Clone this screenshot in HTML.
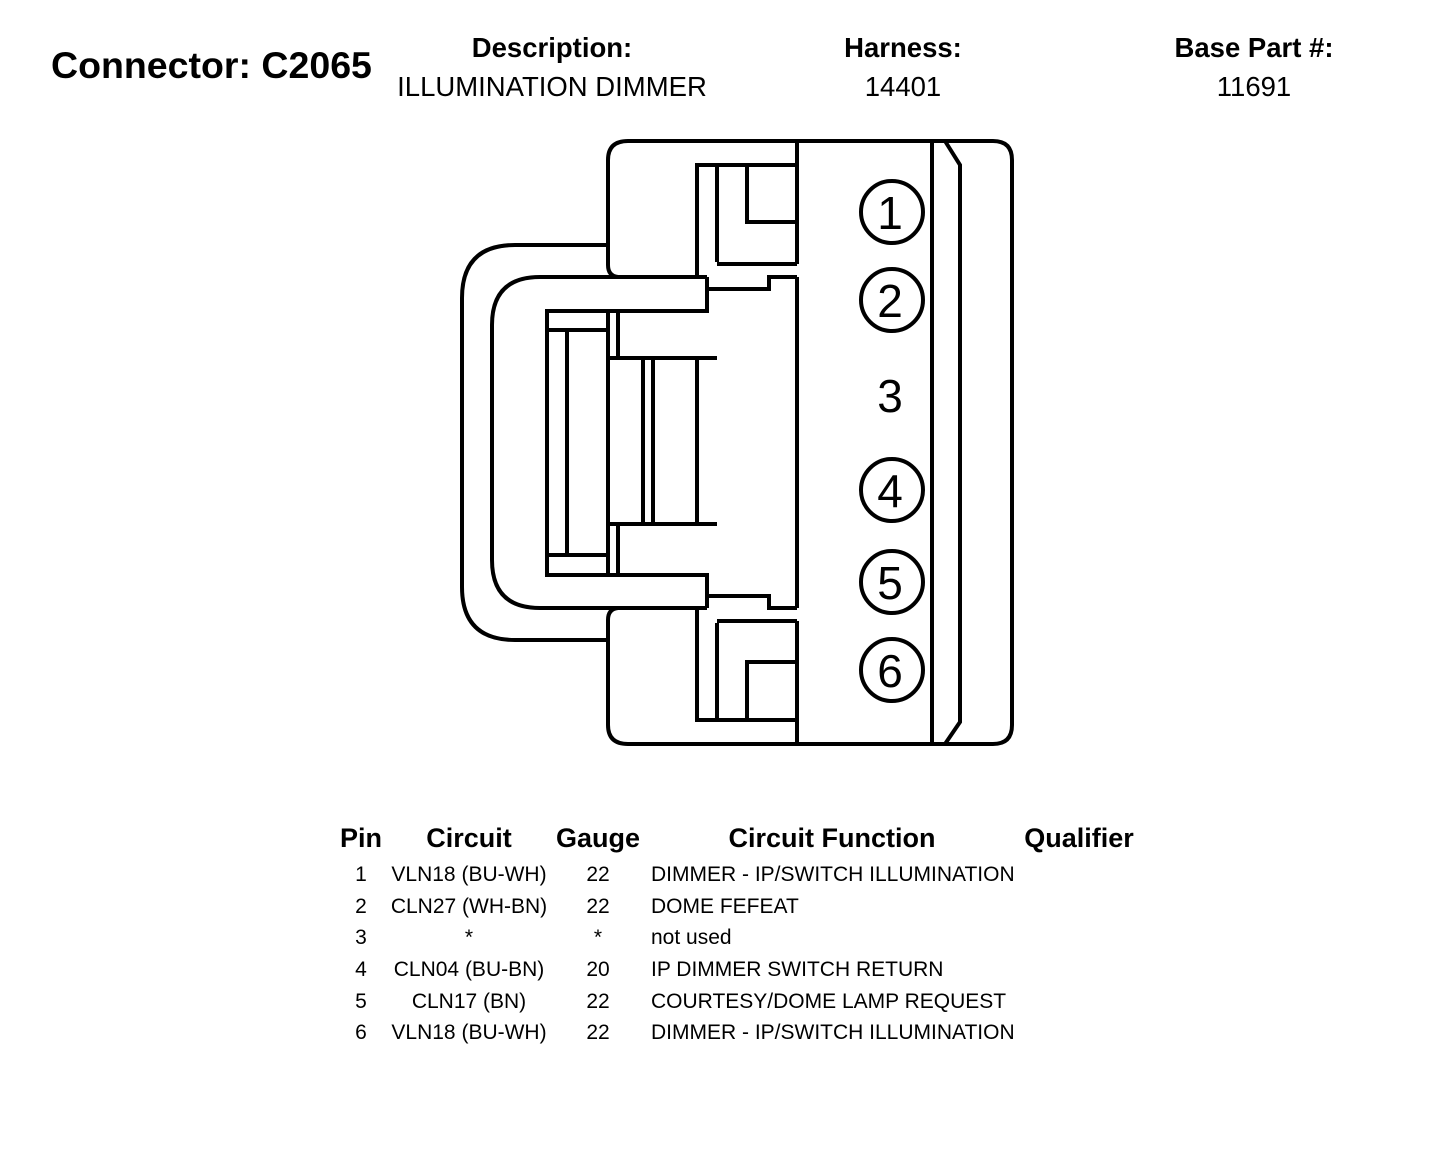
<!DOCTYPE html>
<html><head><meta charset="utf-8"><style>
html,body{margin:0;padding:0;background:#fff;}
svg{display:block;}
text{font-family:"Liberation Sans",Arial,sans-serif;fill:#000;}
</style></head><body>
<svg width="1440" height="1154" viewBox="0 0 1440 1154" xmlns="http://www.w3.org/2000/svg">
<g font-weight="bold">
<text x="51" y="78" font-size="37.5">Connector: C2065</text>
<text x="552" y="57" font-size="27.5" text-anchor="middle">Description:</text>
<text x="903" y="57" font-size="27.5" text-anchor="middle">Harness:</text>
<text x="1254" y="57" font-size="27.5" text-anchor="middle">Base Part #:</text>
</g>
<g font-size="27.5" text-anchor="middle">
<text x="552" y="96">ILLUMINATION DIMMER</text>
<text x="903" y="96">14401</text>
<text x="1254" y="96">11691</text>
</g>
<g fill="none" stroke="#000" stroke-width="4" stroke-linejoin="miter">
<path d="M608,245 L608,160 Q608,141 628,141 L993,141 Q1012,141 1012,160 L1012,725 Q1012,744 993,744 L628,744 Q608,744 608,725 L608,640"/>
<path d="M608,245 L608,265 Q608,276 618,277"/>
<path d="M608,640 L608,620 Q608,609 618,608"/>
<path d="M608,245 L515,245 Q462,245 462,298 L462,587 Q462,640 515,640 L608,640"/>
<path d="M707,277 L540,277 Q492,277 492,325 L492,560 Q492,608 540,608 L707,608"/>
<path d="M707,277 L707,311 L547,311 L547,575 L707,575 L707,608"/>
<path d="M707,289 L769,289 L769,277 L797,277"/>
<path d="M707,596 L769,596 L769,608 L797,608"/>
<path d="M547,330 L608,330 M547,555 L608,555 M567,330 L567,555"/>
<path d="M608,311 L608,575 M618,311 L618,358 M618,524 L618,575"/>
<path d="M608,358 L717,358 M608,524 L717,524"/>
<path d="M643,358 L643,524 M653,358 L653,524 M697,358 L697,524"/>
<path d="M697,277 L697,165 L797,165 M717,262 L717,165 M717,264 L797,264"/>
<path d="M747,165 L747,222 L797,222"/>
<path d="M797,141 L797,264 M797,277 L797,608 M797,621 L797,744"/>
<path d="M697,608 L697,720 L797,720 M717,623 L717,720 M717,621 L797,621"/>
<path d="M747,720 L747,662 L797,662"/>
<path d="M932,141 L932,744"/>
<path d="M945,141 L960,165 L960,722 L945,744"/>
<circle cx="892" cy="212" r="31"/>
<circle cx="892" cy="300" r="31"/>
<circle cx="892" cy="490" r="31"/>
<circle cx="892" cy="582" r="31"/>
<circle cx="892" cy="670" r="31"/>
</g>
<g font-size="46" text-anchor="middle">
<text x="890" y="229">1</text>
<text x="890" y="317">2</text>
<text x="890" y="412">3</text>
<text x="890" y="507">4</text>
<text x="890" y="599">5</text>
<text x="890" y="687">6</text>
</g>
<g font-weight="bold" font-size="27" text-anchor="middle">
<text x="361" y="847">Pin</text>
<text x="469" y="847">Circuit</text>
<text x="598" y="847">Gauge</text>
<text x="832" y="847">Circuit Function</text>
<text x="1079" y="847">Qualifier</text>
</g>
<g font-size="21">
<g text-anchor="middle">
<text x="361" y="881">1</text><text x="469" y="881">VLN18 (BU-WH)</text><text x="598" y="881">22</text>
<text x="361" y="913">2</text><text x="469" y="913">CLN27 (WH-BN)</text><text x="598" y="913">22</text>
<text x="361" y="944">3</text><text x="469" y="944">*</text><text x="598" y="944">*</text>
<text x="361" y="976">4</text><text x="469" y="976">CLN04 (BU-BN)</text><text x="598" y="976">20</text>
<text x="361" y="1008">5</text><text x="469" y="1008">CLN17 (BN)</text><text x="598" y="1008">22</text>
<text x="361" y="1039">6</text><text x="469" y="1039">VLN18 (BU-WH)</text><text x="598" y="1039">22</text>
</g>
<text x="651" y="881">DIMMER - IP/SWITCH ILLUMINATION</text>
<text x="651" y="913">DOME FEFEAT</text>
<text x="651" y="944">not used</text>
<text x="651" y="976">IP DIMMER SWITCH RETURN</text>
<text x="651" y="1008">COURTESY/DOME LAMP REQUEST</text>
<text x="651" y="1039">DIMMER - IP/SWITCH ILLUMINATION</text>
</g>
</svg>
</body></html>
